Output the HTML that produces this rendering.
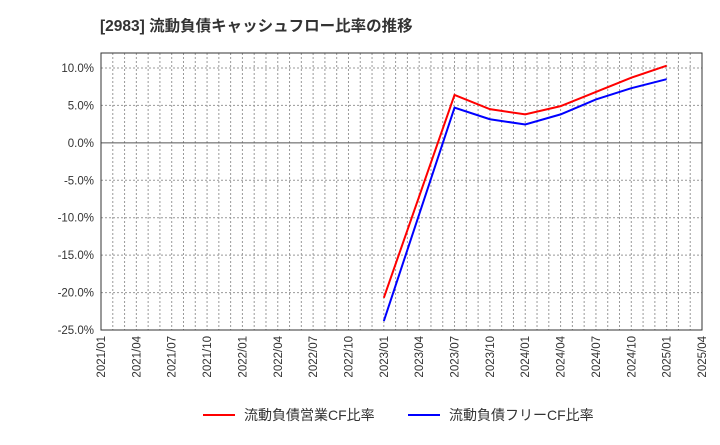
<!DOCTYPE html>
<html><head><meta charset="utf-8"><style>
body{margin:0;background:#fff;font-family:"Liberation Sans","Noto Sans CJK JP",sans-serif}
</style></head><body>
<svg id="c" width="720" height="440" xmlns="http://www.w3.org/2000/svg">
<text x="100" y="31" font-size="15.5" font-weight="bold" fill="#333">[2983]  流動負債キャッシュフロー比率の推移</text>
<g id="grid"></g><g id="axes"></g><g id="series"></g>
<g>
<line x1="203" y1="415" x2="235" y2="415" stroke="#f00" stroke-width="2"/>
<text x="244" y="420" font-size="14" fill="#333">流動負債営業CF比率</text>
<line x1="408" y1="415" x2="440" y2="415" stroke="#00f" stroke-width="2"/>
<text x="449" y="420" font-size="14" fill="#333">流動負債フリーCF比率</text>
</g>
</svg>
<script>
const xTicks=["2021/01","2021/04","2021/07","2021/10","2022/01","2022/04","2022/07","2022/10","2023/01","2023/04","2023/07","2023/10","2024/01","2024/04","2024/07","2024/10","2025/01","2025/04"];
const yTicks=[10,5,0,-5,-10,-15,-20,-25];
const pointDates=["2023/01","2023/07","2023/10","2024/01","2024/04","2024/07","2024/10","2025/01"];
const operatingCF=[-20.7,6.4,4.5,3.8,4.9,6.8,8.7,10.3];
const freeCF=[-23.8,4.7,3.15,2.45,3.8,5.8,7.3,8.5];
const L=101,R=702,T=53,B=330,yMin=-25,yMax=12;
const ns="http://www.w3.org/2000/svg";
function mi(d){const[a,b]=d.split("/").map(Number);return (a-2021)*12+(b-1);}
const maxM=mi(xTicks[xTicks.length-1]);
function X(d){return L+(R-L)*mi(d)/maxM;}
function Y(v){return B-(B-T)*(v-yMin)/(yMax-yMin);}
function mk(t,a,p){const e=document.createElementNS(ns,t);for(const k in a)e.setAttribute(k,a[k]);p.appendChild(e);return e;}
const g=document.getElementById("grid"),ax=document.getElementById("axes"),s=document.getElementById("series");
for(let m=1;m<maxM;m++){const x=L+(R-L)*m/maxM;
const l=mk("line",{x1:x,x2:x,y1:T,y2:B,stroke:"#999","stroke-dasharray":"2,2","stroke-width":1},g);

}
yTicks.forEach(v=>{const y=Y(v);
const l=mk("line",{x1:L,x2:R,y1:y,y2:y,stroke:v===0?"#555":"#999","stroke-dasharray":v===0?"":"2,2","stroke-width":1},g);


const t=mk("text",{x:L-7,y:y+4,"font-size":11.5,fill:"#333","text-anchor":"end"},ax);t.textContent=v.toFixed(1)+"%";

});
xTicks.forEach(d=>{const x=X(d);
const t=mk("text",{transform:`translate(${x+4},${B+6}) rotate(-90)`,"font-size":11.5,fill:"#333","text-anchor":"end"},ax);t.textContent=d;

});
const fr=mk("rect",{x:L,y:T,width:R-L,height:B-T,fill:"none",stroke:"#333","stroke-width":1},ax);


[[operatingCF,"#f00","operating-cf-line"],[freeCF,"#00f","free-cf-line"]].forEach(([d,c,n])=>{
const p=mk("polyline",{points:d.map((v,i)=>X(pointDates[i])+","+Y(v)).join(" "),fill:"none",stroke:c,"stroke-width":2},s);

});
</script>
</body></html>
